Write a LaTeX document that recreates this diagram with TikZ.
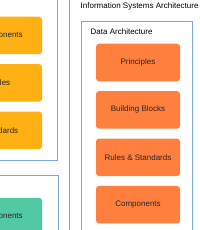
\documentclass[tikz,border=0pt]{standalone}
\usepackage{fontspec}
\setmainfont{Liberation Sans}
\usepackage{xcolor}
\usetikzlibrary{positioning}

\definecolor{boxorange}{HTML}{FF7F3F}
\definecolor{boxamber}{HTML}{FFB013}
\definecolor{boxgreen}{HTML}{52C8A3}
\definecolor{frameblue}{HTML}{7EA6E0}

\begin{document}
\begin{tikzpicture}[x=1pt, y=-1pt, font=\fontsize{8}{9.6}\selectfont,
    block/.style={rounded corners=3pt, minimum width=84pt, minimum height=37.5pt,
                  inner sep=0pt, text=black!85},
    frame/.style={draw=frameblue, line width=0.8pt}]
  \useasboundingbox (0,0) rectangle (200,230);
  \clip (0,0) rectangle (200,230);

  % left containers
  \draw[frame] (-60,-10) rectangle (57.5,160);
  \draw[frame] (-60,175) rectangle (58,260);
  \node[block, fill=boxamber] (comp-left) at (0,35.5) {Components};
  \node[block, fill=boxamber, below=9.5pt of comp-left] (rules-left) {Rules};
  \node[block, fill=boxamber, below=9.5pt of rules-left] (std-left) {Standards};
  \node[block, fill=boxgreen] (comp-green) at (0,216.5) {Components};

  % information systems architecture
  \draw[frame] (69.5,-6) rectangle (260,260);
  \node[anchor=west, inner sep=0pt] (isa-title) at (80.5,6) {Information Systems Architecture};

  % data architecture
  \draw[frame] (81,21) rectangle (192.5,260);
  \node[anchor=west, inner sep=0pt] (data-title) at (90.5,32) {Data Architecture};
  \node[block, fill=boxorange] (principles) at (138,62.5) {Principles};
  \node[block, fill=boxorange, below=9.5pt of principles] (blocks) {Building Blocks};
  \node[block, fill=boxorange, below=9.5pt of blocks] (rules) {Rules \& Standards};
  \node[block, fill=boxorange, below=9.5pt of rules] (components) {Components};
\end{tikzpicture}
\end{document}
